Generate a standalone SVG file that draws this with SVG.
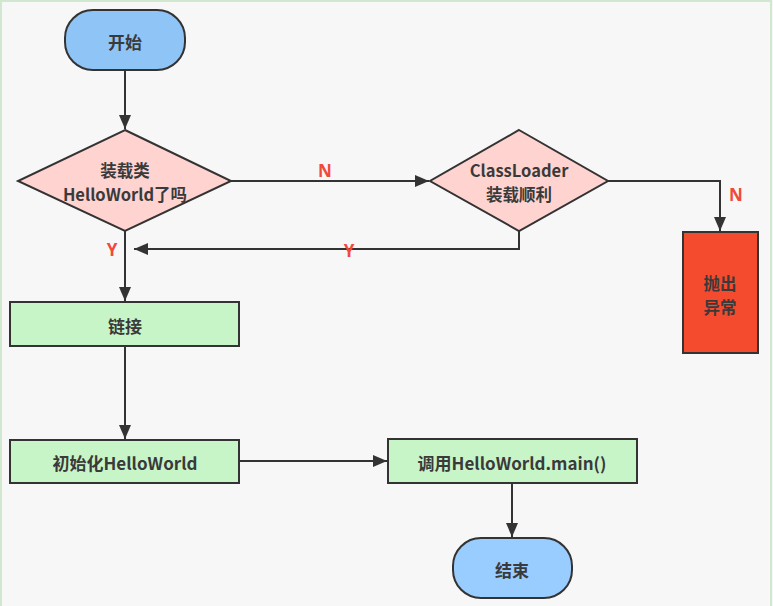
<svg xmlns="http://www.w3.org/2000/svg" width="773" height="606" viewBox="0 0 773 606">
<defs>
<marker id="arr" viewBox="0 0 14 12" refX="14" refY="6" markerWidth="14" markerHeight="12" markerUnits="userSpaceOnUse" orient="auto">
<path d="M0,0 L14,6 L0,12 z" fill="#333"/>
</marker>
<style>
.n{stroke:#333;stroke-width:2}
.t{font-family:"Noto Sans CJK SC","Noto Sans",sans-serif;font-weight:bold;font-size:17px;fill:#3a3a3a;text-anchor:middle;dominant-baseline:central}
.t2{font-size:16.5px}
.lbl{font-family:"Noto Sans","Liberation Sans",sans-serif;font-weight:bold;font-size:17px;fill:#f04a3a;text-anchor:middle;dominant-baseline:central}
.c{fill:none;stroke:#333;stroke-width:2}
</style>
</defs>
<rect x="0" y="0" width="773" height="606" fill="#f7f7f7"/>
<rect x="1" y="1" width="770" height="610" fill="none" stroke="#cfe8cf" stroke-width="2"/>
<g id="connectors">
<path class="c" d="M125,70 V129" marker-end="url(#arr)"/>
<path class="c" d="M231,181 H429" marker-end="url(#arr)"/>
<path class="c" d="M608,181 H720 V231" marker-end="url(#arr)"/>
<path class="c" d="M519,231 V249 H134" marker-end="url(#arr)"/>
<path class="c" d="M125,231 V301" marker-end="url(#arr)"/>
<path class="c" d="M125,346 V439" marker-end="url(#arr)"/>
<path class="c" d="M240,461 H387" marker-end="url(#arr)"/>
<path class="c" d="M512,483 V537" marker-end="url(#arr)"/>
<text class="lbl" x="325" y="170">N</text>
<text class="lbl" x="736" y="194">N</text>
<text class="lbl" x="112" y="249">Y</text>
<text class="lbl" x="349" y="250">Y</text>
</g>
<g id="start">
<rect class="n" x="65" y="10" width="120" height="60" rx="28" fill="#8fc4f6"/>
<text class="t" x="125" y="41">开始</text>
</g>
<g id="check-loaded">
<polygon class="n" points="125,130 231,181 125,231 18,181" fill="#ffd3cf"/>
<text class="t t2" x="125" y="170">装载类</text>
<text class="t t2" x="125" y="194">HelloWorld了吗</text>
</g>
<g id="classloader">
<polygon class="n" points="519,130 608,181 519,231 430,181" fill="#ffd3cf"/>
<text class="t t2" x="519" y="170">ClassLoader</text>
<text class="t t2" x="519" y="194">装载顺利</text>
</g>
<g id="throw">
<rect class="n" x="683" y="232" width="75" height="121" fill="#f44a2e"/>
<text class="t t2" x="720" y="283">抛出</text>
<text class="t t2" x="720" y="307">异常</text>
</g>
<g id="link">
<rect class="n" x="10" y="302" width="229" height="44" fill="#c8f5c8"/>
<text class="t" x="125" y="325">链接</text>
</g>
<g id="init">
<rect class="n" x="10" y="440" width="229" height="43" fill="#c8f5c8"/>
<text class="t" x="125" y="462">初始化HelloWorld</text>
</g>
<g id="invoke">
<rect class="n" x="388" y="439" width="249" height="44" fill="#c8f5c8"/>
<text class="t" x="512" y="462">调用HelloWorld.main()</text>
</g>
<g id="end">
<rect class="n" x="453" y="538" width="119" height="60" rx="28" fill="#99ccff"/>
<text class="t" x="512" y="569">结束</text>
</g>
</svg>
